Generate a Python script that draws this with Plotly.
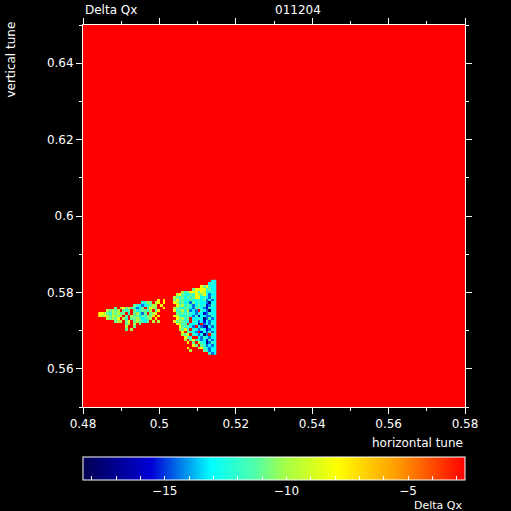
import numpy as np
import plotly.graph_objects as go

# ---- data: grid of Delta Qx (coded levels) ----
X_START = 0.484      # left edge of first column (horizontal tune)
Y_TOP = 0.5833       # top edge of first row (vertical tune)
STEP = 0.0007        # scan step
NCOL = 44

LEVELS = {'.': -2.7, 'n': -17.5, 'b': -15.6, 'B': -14.5, 'c': -13.1,
          't': -12.0, 'g': -11.0, 'l': -9.8, 'y': -8.0, 'o': -6.0}

TAIL = [
    "", "", "", "", "", "", "",
    "......................y.y",
    "................ctlg.ly.y",
    ".............gtcBctgll.y",
    "......g.lyglgtBcg.tylg..y",
    "...lglgl.gtg.gctggtl.gy",
    "yylgtlglgg.t.gltBg.gly.",
    "ylylgllgl.g.lggcgtlgy.y",
    "...lglgy.lt.gglgctgl.y.",
    "......gll.gy.glgtcg.l.l",
    "..........gl.l.g",
    "..........l..g",
    "..........g.l",
    "", "", "", "", "", "", "", "", "",
]

MAIN = [
    "..............cc",
    ".............ctc",
    "..........ygytcc",
    ".......gyyyytgcc",
    "...ltgyyytyltctc",
    ".lygtcgtylgytBcc",
    "lgtgcgtgyyctcBtc",
    "gytgtcgcttcgBcBc",
    "yltgctBgctccBncc",
    ".ygltgtBcgctbBtc",
    "lgtcgtcBgtcBbtcc",
    "ytgltlBcB.tcBncc",
    ".gtgtgtcBtcbBtcc",
    "ylgctgcBtbccBBtc",
    ".ygltg.cctcnBtBc",
    "yglgtc.tcBcbcBcc",
    ".yltg.cctb.BcBtc",
    "..ygtgcB.cBbncBc",
    "..lgyt.tcBtcbBcc",
    "...y.gtcB.bcBtBc",
    "...lgy.tcBcnB.tc",
    "....ygt..cBtcBcc",
    "....l.gytcBcbtBc",
    ".....y.g.ltcnBtc",
    ".......yg.gtBcBc",
    ".....y...lytcBcc",
    "......l....gtBcc",
    ".............tBc",
]

Z_MIN, Z_MAX = -18.36, -2.66
CB_TICKS = list(range(-18, -2))
CB_LABELS = {-15: "−15", -10: "−10", -5: "−5"}

# ---- build grid ----
rows = []
for t, m in zip(TAIL, MAIN):
    s = (t.ljust(28, '.')[:28] + m.ljust(16, '.')[:16])
    rows.append([LEVELS[ch] for ch in s])
Z = np.array(rows)[::-1]          # bottom row first
nrow = Z.shape[0]
xc = X_START + STEP * (np.arange(NCOL) + 0.5)
yc = (Y_TOP - STEP * (np.arange(nrow) + 0.5))[::-1]

CS = [
    [0.0, "rgb(0,0,80)"],
    [0.18, "rgb(0,0,215)"],
    [0.335, "rgb(0,255,255)"],
    [0.45, "rgb(80,255,170)"],
    [0.53, "rgb(165,255,70)"],
    [0.666, "rgb(255,255,0)"],
    [0.83, "rgb(255,150,0)"],
    [1.0, "rgb(255,0,0)"],
]

FONT = "DejaVu Sans, Liberation Sans, sans-serif"
FS = 12
WHITE = "white"

fig = go.Figure(go.Heatmap(
    z=Z, x=xc, y=yc, colorscale=CS, zmin=Z_MIN, zmax=Z_MAX,
    hoverinfo="skip",
    colorbar=dict(
        orientation="h", x=0, xanchor="left", len=1, lenmode="fraction",
        y=-0.131, yanchor="top", thickness=23, thicknessmode="pixels",
        xpad=0, ypad=0, outlinecolor=WHITE, outlinewidth=1,
        tickmode="array", tickvals=CB_TICKS,
        ticktext=[CB_LABELS.get(v, "") for v in CB_TICKS],
        ticks="inside", ticklen=4, tickcolor=WHITE,
        tickfont=dict(color=WHITE, size=FS, family=FONT),
    ),
))

axis_common = dict(
    showgrid=False, zeroline=False, showline=True, linecolor=WHITE, linewidth=1,
    mirror="ticks", ticks="outside", ticklen=6, tickcolor=WHITE,
    tickfont=dict(color=WHITE, size=FS, family=FONT),
    minor=dict(dtick=0.01, ticks="outside", ticklen=3, tickcolor=WHITE),
)

fig.update_layout(
    width=511, height=511,
    margin=dict(l=83, r=46, t=25, b=104, autoexpand=False),
    paper_bgcolor="black", plot_bgcolor="rgb(255,0,0)",
    xaxis=dict(range=[0.48, 0.58], tick0=0.48, dtick=0.02, **axis_common),
    yaxis=dict(range=[0.55, 0.65], tick0=0.56, dtick=0.02, **axis_common),
    font=dict(family=FONT, color=WHITE, size=FS),
    annotations=[
        dict(text="Delta Qx", xref="paper", yref="paper", x=0, y=1.039,
             xanchor="left", yanchor="middle", showarrow=False),
        dict(text="011204", xref="paper", yref="paper", x=0.563, y=1.039,
             xanchor="center", yanchor="middle", showarrow=False),
        dict(text="horizontal tune", xref="paper", yref="paper", x=1, y=-0.094,
             xanchor="right", yanchor="middle", showarrow=False),
        dict(text="vertical tune", xref="paper", yref="paper", x=-0.188, y=0.91,
             xanchor="center", yanchor="middle", textangle=-90, showarrow=False),
        dict(text="Delta Qx", xref="paper", yref="paper", x=1, y=-0.259,
             xanchor="right", yanchor="middle", showarrow=False,
             font=dict(size=11)),
    ],
)

fig.write_html("out.html", config={"displayModeBar": False},
               post_script="document.body.style.margin='0';")
